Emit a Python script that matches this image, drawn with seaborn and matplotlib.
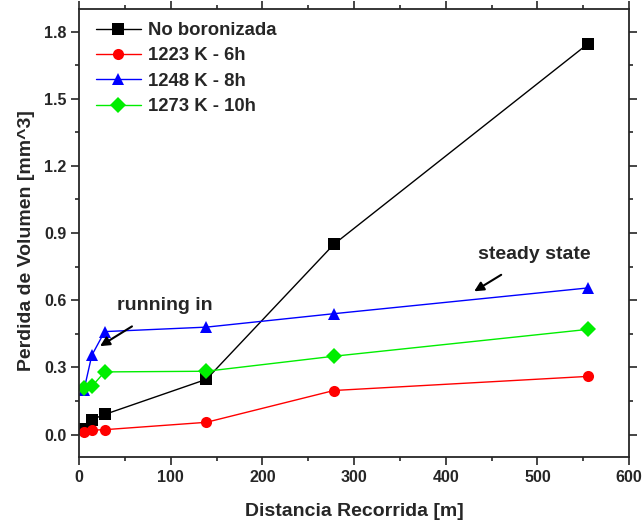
import pandas as pd
import matplotlib
matplotlib.use('Agg')
import matplotlib.pyplot as plt
import seaborn as sns
from matplotlib.ticker import MultipleLocator, FormatStrFormatter

distancia = [5.5, 14, 28, 139, 278, 555]
series = ['No boronizada', '1223 K - 6h', '1248 K - 8h', '1273 K - 10h']
no_boro = [0.027, 0.067, 0.09, 0.247, 0.85, 1.745]
k1223 = [0.01, 0.02, 0.022, 0.055, 0.197, 0.26]
k1248 = [0.2, 0.354, 0.46, 0.48, 0.54, 0.655]
k1273 = [0.207, 0.215, 0.28, 0.283, 0.35, 0.47]

rows = []
for nombre, vals in zip(series, [no_boro, k1223, k1248, k1273]):
    for d, v in zip(distancia, vals):
        rows.append({'Distancia Recorrida [m]': d, 'Perdida de Volumen [mm^3]': v, 'serie': nombre})
df = pd.DataFrame(rows)

sns.set_style('ticks')
plt.rcParams['font.family'] = ['Liberation Sans', 'DejaVu Sans']
plt.rcParams['font.weight'] = 'bold'

fig = plt.figure(figsize=(6.42, 5.22), dpi=100)
ax = fig.add_axes([0.123, 0.1245, 0.857, 0.858])
colores = {'No boronizada': 'black', '1223 K - 6h': 'red', '1248 K - 8h': 'blue', '1273 K - 10h': '#00ee00'}
marcas = {'No boronizada': 's', '1223 K - 6h': 'o', '1248 K - 8h': '^', '1273 K - 10h': 'D'}
sns.lineplot(data=df, x='Distancia Recorrida [m]', y='Perdida de Volumen [mm^3]', hue='serie', style='serie',
             palette=colores, markers=marcas, dashes=False, linewidth=1, markersize=8,
             markeredgewidth=0, ax=ax, hue_order=series, style_order=series)

ax.set_xlim(0, 600)
ax.set_ylim(-0.1, 1.9)
ax.xaxis.set_major_locator(MultipleLocator(100))
ax.xaxis.set_minor_locator(MultipleLocator(50))
ax.yaxis.set_major_locator(MultipleLocator(0.3))
ax.yaxis.set_minor_locator(MultipleLocator(0.15))
ax.yaxis.set_major_formatter(FormatStrFormatter('%.1f'))
ax.tick_params(which='both', direction='out', top=True, right=True, labelsize=11.5, width=1.2)
ax.tick_params(which='major', length=5.5)
ax.tick_params(which='minor', length=3)
for s in ax.spines.values():
    s.set_linewidth(1.3)
for lab in ax.get_xticklabels() + ax.get_yticklabels():
    lab.set_fontweight('bold')
ax.set_xlabel('Distancia Recorrida [m]', fontsize=14, fontweight='bold', labelpad=13.5)
ax.set_ylabel('Perdida de Volumen [mm^3]', fontsize=14, fontweight='bold')
ax.yaxis.set_label_coords(-0.08, 0.484)

leg = ax.legend(loc='upper left', bbox_to_anchor=(0.008, 1.0), frameon=False,
                prop={'weight': 'bold', 'size': 13.3},
                handlelength=2.4, labelspacing=0.45, borderaxespad=0.3, handletextpad=0.4)

ax.annotate('running in', xy=(23, 0.395), xytext=(94, 0.575), ha='center', va='center',
            fontsize=14, fontweight='bold',
            arrowprops=dict(arrowstyle='-|>', color='black', lw=1.5, shrinkA=12, shrinkB=0))
ax.annotate('steady state', xy=(431, 0.64), xytext=(497, 0.805), ha='center', va='center',
            fontsize=14, fontweight='bold',
            arrowprops=dict(arrowstyle='-|>', color='black', lw=1.5, shrinkA=12, shrinkB=0))

fig.savefig('out.png', dpi=100)
